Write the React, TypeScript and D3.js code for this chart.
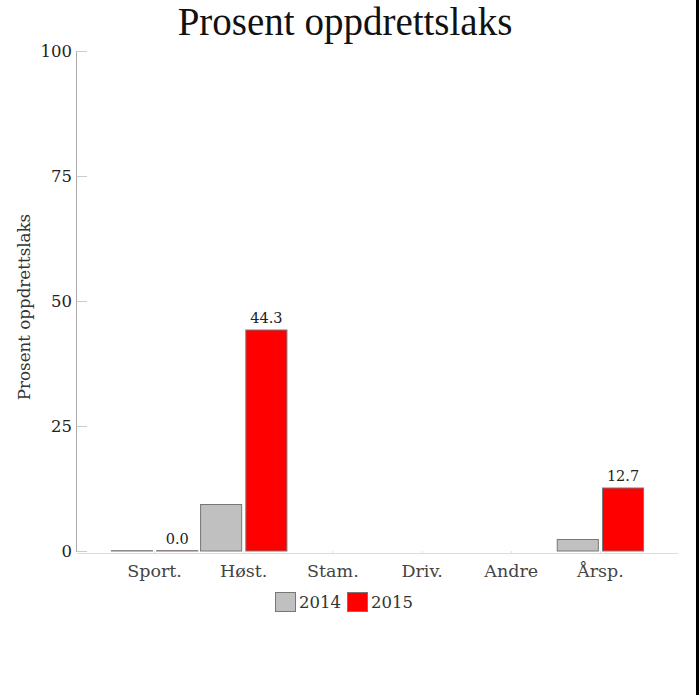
import React from "react";
import * as d3 from "d3";

const categories = ["Sport.", "Høst.", "Stam.", "Driv.", "Andre", "Årsp."];
const seriesNames = ["2014", "2015"];
const values2014: (number | null)[] = [0, 9.4, null, null, null, 2.4];
const values2015: (number | null)[] = [0, 44.3, null, null, null, 12.7];
const yTicks = [0, 25, 50, 75, 100];
const title = "Prosent oppdrettslaks";
const yTitle = "Prosent oppdrettslaks";

const W = 699;
const H = 695;
const serif = "'DejaVu Serif', serif";

export default function App() {
  const y = d3.scaleLinear().domain([0, 100]).range([551, 51]);
  const x = d3.scaleBand<string>().domain(categories).range([77, 678]).paddingOuter(0.37).paddingInner(0);
  const x1 = d3.scaleBand<string>().domain(seriesNames).range([0, x.bandwidth()]).paddingInner(0.07).paddingOuter(0.02);
  const colors = d3.scaleOrdinal<string, string>().domain(seriesNames).range(["#c0c0c0", "#ff0000"]);
  const series = [values2014, values2015];

  return (
    <div style={{ position: "absolute", left: 0, top: 0 }}>
      <svg width={W} height={H} style={{ display: "block", background: "#fff" }}>
        <text x={345} y={35} textAnchor="middle" fontFamily="'Liberation Serif', serif" fontSize={39} fill="#111">
          {title}
        </text>
        {/* y axis */}
        <line x1={76.5} x2={76.5} y1={51} y2={552} stroke="#aaa" />
        {yTicks.map((t) => (
          <g key={t}>
            <line x1={76.5} x2={87} y1={y(t) + 0.5} y2={y(t) + 0.5} stroke="#ccc" />
            <text x={72} y={y(t) + 6} textAnchor="end" fontFamily={serif} fontSize={16.5} fill="#222">
              {t}
            </text>
          </g>
        ))}
        <text
          transform={`translate(30,307) rotate(-90)`}
          textAnchor="middle"
          fontFamily={serif}
          fontSize={16.7}
          fill="#333"
        >
          {yTitle}
        </text>
        {/* x axis */}
        <line x1={77} x2={678} y1={553.5} y2={553.5} stroke="#ddd" />
        {categories.map((c) => {
          const cx = (x(c) as number) + x.bandwidth() / 2;
          return (
            <g key={c}>
              <line x1={cx} x2={cx} y1={551} y2={553} stroke="#ddd" />
              <text x={cx} y={577} textAnchor="middle" fontFamily={serif} fontSize={17.5} fill="#444">
                {c}
              </text>
            </g>
          );
        })}
        {/* bars */}
        {categories.map((c, i) =>
          seriesNames.map((s, j) => {
            const v = series[j][i];
            if (v === null) return null;
            const bx = (x(c) as number) + (x1(s) as number);
            const top = y(v);
            const h = Math.max(y(0) - top, 0.8);
            return (
              <g key={c + s}>
                <rect
                  x={bx + 0.5}
                  y={Math.min(top, y(0) - 0.8) + 0.5}
                  width={x1.bandwidth() - 1}
                  height={h - 0.5}
                  fill={colors(s)}
                  stroke="#777"
                  strokeWidth={1}
                />
                {j === 1 && (
                  <text
                    x={bx + x1.bandwidth() / 2}
                    y={top - 7}
                    textAnchor="middle"
                    fontFamily={serif}
                    fontSize={14.5}
                    fill="#222"
                  >
                    {v.toFixed(1)}
                  </text>
                )}
              </g>
            );
          })
        )}
        {/* legend */}
        {seriesNames.map((s, j) => {
          const lx = 275 + j * 72;
          return (
            <g key={s}>
              <rect x={lx + 0.5} y={592.5} width={20} height={19} fill={colors(s)} stroke="#777" />
              <text x={lx + 24} y={608} fontFamily={serif} fontSize={16.5} fill="#333">
                {s}
              </text>
            </g>
          );
        })}
        <rect x={696} y={0} width={3} height={H} fill="#000" />
      </svg>
    </div>
  );
}
